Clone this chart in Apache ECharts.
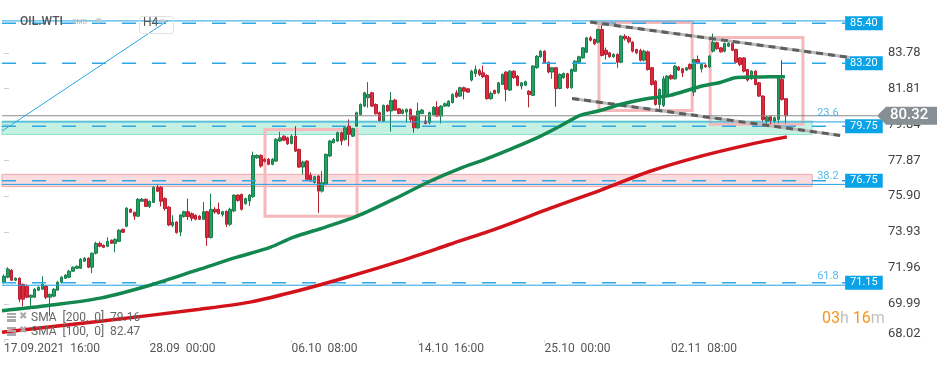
<!DOCTYPE html>
<html><head><meta charset="utf-8">
<script src="https://cdn.jsdelivr.net/npm/echarts@6/dist/echarts.min.js"></script>
<style>html,body{margin:0;padding:0;background:#fff}#c{width:950px;height:365px}</style>
</head><body><div id="c"></div>
<script>
// candles: [open, high, low, close]
const candles = [
[71.17,71.60,71.10,71.50],[71.45,72.00,71.40,71.89],[71.83,71.90,71.25,71.28],[71.28,71.45,71.25,71.39],[71.39,71.45,70.08,70.24],
[71.06,71.10,69.86,70.24],[70.95,71.05,70.30,70.35],[70.35,70.50,69.86,70.46],[70.35,70.85,70.30,70.79],[70.74,70.95,70.70,70.90],
[70.79,71.50,70.75,71.06],[70.95,71.00,70.25,70.35],[70.35,70.55,69.31,70.51],[70.41,70.85,70.35,70.79],[70.74,71.25,70.70,71.17],
[71.17,71.50,71.10,71.45],[71.39,71.62,71.35,71.56],[71.45,71.85,71.40,71.78],[71.78,72.05,71.75,72.00],[71.94,72.10,71.90,72.05],
[71.94,72.50,71.90,72.44],[72.33,72.55,72.30,72.49],[72.49,72.55,71.95,72.00],[72.00,72.80,71.67,72.77],[72.77,73.40,72.70,73.31],
[73.31,73.40,73.10,73.15],[73.20,73.25,73.05,73.09],[73.15,73.64,73.10,73.42],[73.48,73.52,73.28,73.31],[73.31,73.58,72.82,73.53],
[73.42,74.08,73.38,74.03],[74.08,74.12,73.88,73.92],[74.25,75.30,74.20,75.24],[75.18,75.22,74.98,75.02],[75.02,75.05,74.60,74.80],
[74.80,75.80,74.75,75.73],[75.62,75.80,75.58,75.73],[75.73,75.78,75.30,75.34],[75.34,75.66,75.25,75.62],[75.56,76.45,75.52,76.39],
[76.39,76.58,76.12,76.17],[76.39,76.45,75.34,75.62],[75.77,75.84,75.12,75.22],[75.30,75.36,74.26,74.32],[74.30,74.85,74.19,74.48],
[74.48,74.52,73.85,73.90],[73.93,74.90,73.71,74.87],[74.78,75.10,74.72,75.05],[75.05,75.77,74.59,74.78],[74.94,75.01,74.54,74.69],
[74.85,74.90,74.58,74.63],[74.81,74.85,74.60,74.63],[74.63,75.58,74.59,75.05],[75.05,75.10,73.17,73.63],[73.63,76.04,73.57,75.18],
[75.18,75.30,74.94,75.03],[75.18,75.55,74.90,74.94],[74.90,75.10,74.78,75.05],[75.07,75.12,74.21,74.36],[74.36,75.27,74.26,75.18],
[75.09,76.00,75.02,75.96],[75.96,76.00,75.60,75.67],[76.00,76.04,75.12,75.18],[75.49,75.82,75.44,75.77],[75.64,76.02,75.36,75.96],
[75.88,78.35,75.80,78.14],[78.01,78.20,77.95,78.14],[78.14,78.20,77.47,77.56],[77.93,78.00,77.75,77.82],[77.93,78.00,77.60,77.65],
[77.65,78.00,77.60,77.93],[77.83,79.10,77.78,79.02],[78.93,79.44,78.88,79.11],[79.20,79.25,78.93,78.98],[79.11,79.17,78.72,78.78],
[78.80,79.30,78.75,79.20],[79.20,79.75,78.33,78.38],[78.47,78.52,77.45,77.50],[77.50,77.85,77.10,77.78],[77.83,77.88,76.78,76.83],
[77.05,77.20,76.68,76.73],[76.65,77.02,76.60,76.97],[77.01,77.05,74.99,76.18],[76.18,77.28,76.10,76.64],[76.55,78.25,76.50,78.20],
[78.11,79.00,78.05,78.93],[78.84,79.10,78.80,79.02],[78.93,79.45,78.88,79.39],[79.39,79.45,78.70,78.93],[79.02,79.72,78.95,79.66],
[79.75,80.12,78.65,79.30],[79.20,79.66,79.15,79.61],[79.75,80.55,79.70,80.49],[80.39,81.00,80.34,80.94],[80.85,81.64,80.80,81.58],
[81.31,82.17,80.76,81.49],[81.58,81.64,80.80,80.85],[80.94,81.00,80.39,80.43],[80.49,80.55,80.01,80.06],[80.03,80.94,79.98,80.89],
[80.89,80.94,80.52,80.58],[80.58,81.62,79.45,81.16],[81.18,81.25,80.58,80.63],[80.70,80.75,80.40,80.45],[80.45,80.70,80.40,80.63],
[80.52,80.72,79.94,80.67],[80.67,80.72,79.94,80.12],[80.30,80.35,79.39,79.66],[79.66,81.04,79.60,80.58],[80.45,80.70,80.40,80.63],
[80.03,80.30,79.85,79.90],[79.94,80.55,79.85,80.49],[80.39,80.85,80.34,80.79],[80.79,81.12,80.25,80.30],[80.30,80.90,79.90,80.85],
[80.85,81.05,80.80,80.98],[80.85,81.18,80.80,81.12],[81.04,81.55,81.00,81.49],[81.58,81.73,81.30,81.36],[81.40,81.92,81.35,81.86],
[81.86,81.92,81.22,81.67],[81.80,81.85,81.57,81.62],[82.28,82.85,82.20,82.77],[82.64,83.08,82.45,82.86],[82.81,82.90,82.50,82.59],
[82.68,83.08,82.40,82.46],[82.53,82.60,81.20,81.26],[81.26,81.66,81.20,81.55],[81.71,81.76,81.50,81.55],[81.58,82.18,81.53,82.13],
[82.04,82.65,82.00,82.59],[82.72,82.78,81.12,81.77],[81.73,82.83,81.68,82.77],[82.77,82.83,82.35,82.41],[82.50,82.55,81.94,81.99],
[81.95,82.18,81.77,82.13],[82.00,82.25,81.95,82.19],[81.67,81.72,80.78,81.49],[81.44,83.10,81.40,83.05],[82.96,83.65,82.90,83.59],
[83.56,83.92,83.50,83.87],[83.87,83.92,83.18,83.23],[83.26,83.30,82.65,82.72],[82.72,83.00,82.35,82.96],[82.96,83.00,80.82,81.81],
[81.82,82.65,81.77,82.59],[82.41,82.70,82.35,82.64],[82.63,82.68,81.80,81.86],[81.86,82.92,81.80,82.86],[82.77,83.38,82.72,83.32],
[83.26,83.62,83.20,83.56],[83.50,84.10,83.45,84.05],[83.81,84.65,83.76,84.60],[84.60,84.70,84.40,84.47],[84.51,84.56,84.20,84.27],
[84.36,85.10,84.30,85.06],[85.06,85.40,83.58,83.63],[83.92,84.07,83.41,83.69],[83.78,83.83,83.50,83.56],[83.56,83.75,83.50,83.69],
[83.69,83.75,82.96,83.26],[83.26,84.75,83.20,84.69],[84.69,84.80,84.45,84.55],[84.60,84.70,84.30,84.38],[84.36,84.42,83.80,83.87],
[83.96,84.00,83.70,83.78],[83.90,84.00,83.30,83.37],[83.37,83.95,83.30,83.87],[83.83,83.90,82.80,82.86],[82.96,83.00,81.98,82.04],
[82.22,82.28,80.88,80.94],[80.94,81.82,80.70,81.77],[80.89,82.50,80.80,82.35],[81.49,82.55,81.40,82.50],[82.53,82.60,82.30,82.35],
[82.35,83.10,82.30,83.05],[82.99,83.05,82.78,82.83],[82.90,82.95,82.45,82.68],[82.83,83.00,82.78,82.96],[83.14,83.20,82.85,82.90],
[81.62,83.45,81.40,83.41],[83.41,83.63,83.18,83.23],[82.90,83.20,82.70,83.14],[83.10,83.15,82.95,83.01],[83.00,83.65,82.95,83.60],
[83.87,84.84,83.80,84.36],[84.33,84.40,83.95,84.00],[84.05,84.10,83.78,83.83],[83.87,84.35,83.80,84.29],[84.14,84.45,84.10,84.29],
[84.29,84.35,83.87,83.92],[83.96,84.00,83.20,83.26],[83.50,83.55,83.05,83.14],[83.50,83.55,82.70,82.77],[82.86,82.90,82.20,82.28],
[82.35,82.82,82.30,82.77],[82.77,82.82,81.98,82.04],[82.13,82.18,81.35,81.40],[81.40,81.45,80.00,80.12],[80.03,80.30,79.85,80.25],
[80.27,80.32,79.85,80.06],[80.03,80.27,79.90,80.21],[80.12,82.46,79.90,82.41],[82.31,83.37,81.15,81.22],[81.26,81.30,79.90,80.32]
];
const slotCount = 229;
const xTickIdx = [0, 38, 75, 108, 141, 174];
const xTickLabels = ['17.09.2021  16:00', '28.09  00:00', '06.10  08:00', '14.10  16:00', '25.10  00:00', '02.11  08:00'];
const yTickValues = [68.02, 69.99, 71.96, 73.93, 75.90, 77.87, 79.84, 81.81, 83.78];
const sma100 = [[-0.5,69.61],[12.0,69.91],[25.1,70.30],[38.1,71.01],[51.1,71.89],[60.8,72.55],[69.4,73.09],[75.4,73.64],[83.7,74.19],[92.1,74.80],[103.3,75.90],[111.1,76.72],[119.0,77.43],[125.5,77.92],[132.0,78.47],[139.3,79.13],[145.0,79.74],[150.3,80.34],[155.5,80.61],[160.7,80.94],[167.2,81.24],[173.7,81.44],[181.6,81.93],[186.8,82.15],[191.2,82.42],[197.2,82.45],[203.7,82.47]];
const sma200 = [[-0.5,68.43],[25.1,69.03],[51.1,69.69],[64.2,70.08],[77.2,70.73],[90.3,71.50],[103.3,72.33],[116.4,73.26],[129.4,74.19],[142.4,75.23],[155.5,76.22],[168.5,77.27],[181.6,78.09],[194.6,78.75],[204.2,79.16]];
const levels = [85.40, 83.20, 79.75, 76.75, 71.15];
const fibLevels = [85.53, 79.98, 76.55, 71.01];
const fibNames = ['', '23.6', '38.2', '61.8'];
const lastPrice = 80.32;
const greenZone = [79.29, 80.03];
const redZone = [76.43, 77.10];
const boxes = [[68.1, 79.57, 92.1, 74.80], [155.2, 85.44, 179.5, 80.61], [184.2, 84.62, 208.4, 79.85]];
const trendUpper = [[152.9, 85.47], [220.7, 83.52]];
const trendLower = [[148.2, 81.27], [218.1, 79.24]];
const blueTrend = [[-0.5, 79.48], [42.8, 85.55]];
const sma100Value = 82.47, sma200Value = 79.16;

const lineEnd = 219.4, zoneEnd = 210.8, priceEnd = 227.7, fibLabelAt = 214.9;
const cats = Array.from({length: slotCount}, (_, i) => String(i));
const FONT = 'Roboto';
const chart = echarts.init(document.getElementById('c'), null, {renderer: 'canvas'});

const series = [];
series.push({
  type: 'candlestick', xAxisIndex: 0, yAxisIndex: 0, z: 2, barWidth: 3,
  data: candles.map(c => [c[0], c[3], c[2], c[1]]),
  itemStyle: {color: '#25a063', color0: '#de2a3d', borderColor: '#187e4c', borderColor0: '#b81f30', borderWidth: 1}
});
// fib solid lines
fibLevels.forEach((v, i) => {
  series.push({
    type: 'line', xAxisIndex: 1, yAxisIndex: 0, z: 3, symbol: 'none', silent: true,
    data: [[-0.5, v], [lineEnd, v]], lineStyle: {color: '#1ea2e3', width: 1}
  });
  if (fibNames[i]) {
    series.push({
      type: 'scatter', xAxisIndex: 1, yAxisIndex: 0, z: 8, symbolSize: 0, silent: true,
      data: [[fibLabelAt, v]],
      label: {show: true, position: 'top', distance: 3, formatter: fibNames[i], color: '#2ba6e4', fontSize: 11, fontFamily: FONT}
    });
  }
});
// dashed level lines with blue tags
levels.forEach(v => {
  series.push({
    type: 'line', xAxisIndex: 1, yAxisIndex: 0, z: 3, symbol: 'none', silent: true,
    data: [[-0.5, v], [lineEnd, v]], lineStyle: {color: '#2ea7e6', width: 1.5, type: [14, 16]},
    endLabel: {show: true, formatter: v.toFixed(2), backgroundColor: '#0ba3e8', color: '#fff', padding: [2, 5, 1, 5], fontSize: 11, fontFamily: FONT, distance: 0}
  });
});
// last price line
series.push({
  type: 'line', xAxisIndex: 1, yAxisIndex: 0, z: 3, symbol: 'none', silent: true,
  data: [[-0.5, lastPrice], [priceEnd, lastPrice]], lineStyle: {color: '#8a8a8a', width: 1}
});
// blue trend
series.push({
  type: 'line', xAxisIndex: 1, yAxisIndex: 0, z: 3, symbol: 'none', silent: true,
  data: blueTrend, lineStyle: {color: '#2aa6e6', width: 1}
});
// zones and boxes
series.push({
  type: 'line', xAxisIndex: 1, yAxisIndex: 0, z: 5, symbol: 'none', silent: true, data: [],
  markArea: {silent: true, data: [
    [{coord: [-0.5, greenZone[1]], itemStyle: {color: 'rgba(110,220,185,0.4)', borderColor: '#8fe2c6', borderWidth: 1}}, {coord: [zoneEnd, greenZone[0]]}],
    [{coord: [-0.5, redZone[1]], itemStyle: {color: 'rgba(245,175,182,0.45)', borderColor: '#f3a5ad', borderWidth: 1}}, {coord: [zoneEnd, redZone[0]]}]
  ]}
});
series.push({
  type: 'line', xAxisIndex: 1, yAxisIndex: 0, z: 6, symbol: 'none', silent: true, data: [],
  markArea: {silent: true, data: boxes.map(b => [
    {coord: [b[0], b[1]], itemStyle: {color: 'rgba(0,0,0,0)', borderColor: '#f6b8bb', borderWidth: 3}}, {coord: [b[2], b[3]]}
  ])}
});
// trendlines
[trendUpper, trendLower].forEach(t => {
  series.push({type: 'line', xAxisIndex: 1, yAxisIndex: 0, z: 6, symbol: 'none', silent: true, data: t, lineStyle: {color: '#b9b9b9', width: 3}});
  series.push({type: 'line', xAxisIndex: 1, yAxisIndex: 0, z: 6, symbol: 'none', silent: true, data: t, lineStyle: {color: '#5e5e5e', width: 3, type: [7, 5]}});
});
// SMAs
series.push({type: 'line', xAxisIndex: 1, yAxisIndex: 0, z: 7, symbol: 'none', silent: true, smooth: 0.3, data: sma200, lineStyle: {color: '#d3131c', width: 3.5}});
series.push({type: 'line', xAxisIndex: 1, yAxisIndex: 0, z: 7, symbol: 'none', silent: true, smooth: 0.3, data: sma100, lineStyle: {color: '#12884f', width: 3.5}});

const option = {
  animation: false,
  textStyle: {fontFamily: FONT},
  grid: {left: 2, right: 70, top: 0, bottom: 25},
  xAxis: [{
    type: 'category', data: cats, boundaryGap: true,
    axisLine: {show: false},
    axisTick: {show: true, alignWithLabel: true, interval: (i) => xTickIdx.includes(i), length: 3, lineStyle: {color: '#dcdcdc'}},
    axisLabel: {interval: (i) => xTickIdx.includes(i), formatter: (val) => { const k = xTickIdx.indexOf(Number(val)); return k >= 0 ? xTickLabels[k] : ''; },
      align: 'left', color: '#555', fontSize: 12, fontFamily: FONT, margin: 3},
    splitLine: {show: false}
  }, {
    type: 'value', min: -0.5, max: slotCount - 0.5, show: false
  }],
  yAxis: [{
    type: 'value', position: 'right', min: 68.00, max: 86.68,
    splitLine: {show: false}, axisLine: {show: false},
    axisTick: {show: true, customValues: yTickValues, length: 5, lineStyle: {color: '#cfcfcf'}},
    axisLabel: {customValues: yTickValues, color: '#444', fontSize: 13, fontFamily: FONT, margin: 8,
      formatter: v => (Math.abs(v - 68.02) < 1e-6 ? '{b|' + v.toFixed(2) + '}' : v.toFixed(2)),
      rich: {b: {fontSize: 13, color: '#444', fontFamily: FONT, padding: [0, 0, 12, 0]}}}
  }],
  series: series,
  graphic: [
    {type: 'text', left: 20, top: 16, z: 20, style: {text: 'OIL.WTI', fill: '#555', font: '500 12px Roboto'}},
    {type: 'text', left: 72, top: 19, z: 20, style: {text: 'CMD', fill: '#b5b5b5', font: '7px Roboto'}},
    {type: 'text', left: 96, top: 18, z: 20, style: {text: '▼', fill: '#c8c8c8', font: '7px DejaVu Sans'}},
    {type: 'rect', left: 137, top: 14, z: 20, shape: {width: 34, height: 17, r: 3}, style: {fill: 'none', stroke: '#e0e0e0', lineWidth: 1}},
    {type: 'text', left: 143, top: 17, z: 20, style: {text: 'H4', fill: '#555', font: '12px Roboto'}},
    {type: 'text', left: 160, top: 19, z: 20, style: {text: '▼', fill: '#c8c8c8', font: '7px DejaVu Sans'}},
    // SMA legend
    {type: 'rect', left: 7, top: 313, z: 20, shape: {width: 9, height: 2}, style: {fill: '#aaa'}},
    {type: 'rect', left: 7, top: 316, z: 20, shape: {width: 9, height: 2}, style: {fill: '#aaa'}},
    {type: 'rect', left: 7, top: 319, z: 20, shape: {width: 9, height: 3}, style: {fill: '#aaa'}},
    {type: 'text', left: 19, top: 311, z: 20, style: {text: '✖', fill: '#aaa', font: '10px DejaVu Sans'}},
    {type: 'text', left: 31, top: 312, z: 20, style: {text: 'SMA  [200,  0]  ' + sma200Value.toFixed(2), fill: '#666', font: '12px Roboto'}},
    {type: 'rect', left: 7, top: 327, z: 20, shape: {width: 9, height: 2}, style: {fill: '#aaa'}},
    {type: 'rect', left: 7, top: 330, z: 20, shape: {width: 9, height: 2}, style: {fill: '#aaa'}},
    {type: 'rect', left: 7, top: 333, z: 20, shape: {width: 9, height: 3}, style: {fill: '#aaa'}},
    {type: 'text', left: 19, top: 325, z: 20, style: {text: '✖', fill: '#aaa', font: '10px DejaVu Sans'}},
    {type: 'text', left: 31, top: 326, z: 20, style: {text: 'SMA  [100,  0]  ' + sma100Value.toFixed(2), fill: '#666', font: '12px Roboto'}},
    // timer
    {type: 'text', left: 822, top: 311, z: 20, style: {
      text: '{o|03}{g|h }{o|16}{g|m}',
      rich: {o: {fill: '#f7941d', font: '16px Roboto'}, g: {fill: '#c0c0c0', font: '16px Roboto'}}}}
  ]
};
chart.setOption(option);
const py = chart.convertToPixel({yAxisIndex: 0}, lastPrice);
chart.setOption({graphic: option.graphic.concat([
  {type: 'polygon', z: 30, shape: {points: [[877, py], [886, py - 9], [937, py - 9], [937, py + 9], [886, py + 9]]}, style: {fill: '#868f94'}},
  {type: 'text', z: 31, left: 890, top: py - 8, style: {text: lastPrice.toFixed(2), fill: '#fff', font: '500 15px Roboto'}}
])});
</script></body></html>
